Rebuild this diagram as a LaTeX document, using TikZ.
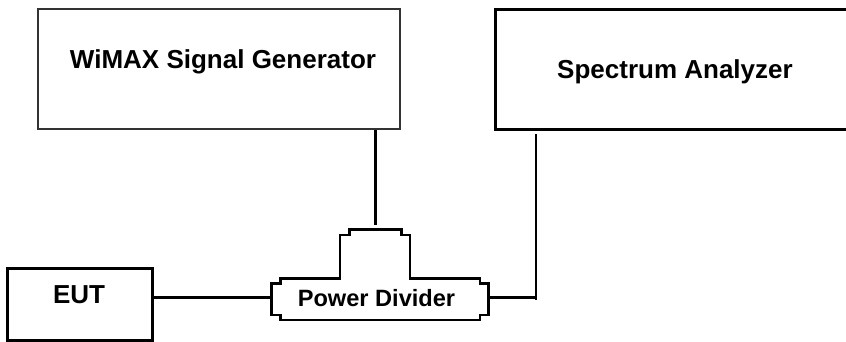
\documentclass[tikz,border=0pt]{standalone}
\usepackage{fontspec}
\setmainfont{Liberation Sans}
\begin{document}
\begin{tikzpicture}[x=1pt,y=-1pt,
  boxstyle/.style={draw=black,line width=3pt,inner sep=0pt,fill=white},
  lbl/.style={font=\fontsize{26}{28}\selectfont\bfseries,inner sep=0pt},
  wire/.style={draw=black,line width=2.5pt}]
\clip (0,0) rectangle (846,341);
\fill[white] (0,0) rectangle (846,341);
% boxes
\node[boxstyle,draw=black!80,line width=2.8pt,minimum width=362pt,minimum height=120pt] (gen) at (219,69) {};
\node[lbl] (gentext) at (223,62) {WiMAX Signal Generator};
\node[boxstyle,minimum width=370pt,minimum height=120pt] (sa) at (680,69.3) {};
\node[lbl] (satext) at (675,72) {Spectrum Analyzer};
\node[boxstyle,minimum width=145pt,minimum height=72pt] (eut) at (79.5,304) {};
\node[lbl] (euttext) at (79,295) {EUT};
% power divider
\draw[line width=2.8pt,line join=miter]
  (349.3,229.3) -- (401.7,229.3) -- (401.7,235) -- (410,235) -- (410,278.3)
  -- (480,278.3) -- (480,283.3) -- (488.3,283.3) -- (488.3,315) -- (480,315)
  -- (480,320) -- (280.7,320) -- (280.7,315) -- (271.7,315) -- (271.7,283.3)
  -- (280.7,283.3) -- (280.7,278.3) -- (340,278.3) -- (340,235) -- (349.3,235) -- cycle;
\node[font=\fontsize{23.6}{25}\selectfont\bfseries,inner sep=0pt] (div) at (376.5,298) {Power Divider};
\coordinate (divL) at (271.7,297.5);
\coordinate (divR) at (488.3,297.5);
\coordinate (divT) at (375.6,225);
\coordinate (saTop) at (536,134);
\coordinate (saBot) at (536,300);
% connectors
\draw[wire] (eut.east |- divL) -- (divL);
\draw[wire] (gen.south -| divT) -- (divT);
\draw[wire] (divR) -- (saBot |- divR);
\draw[wire] (saTop) -- (saBot);
\end{tikzpicture}
\end{document}
